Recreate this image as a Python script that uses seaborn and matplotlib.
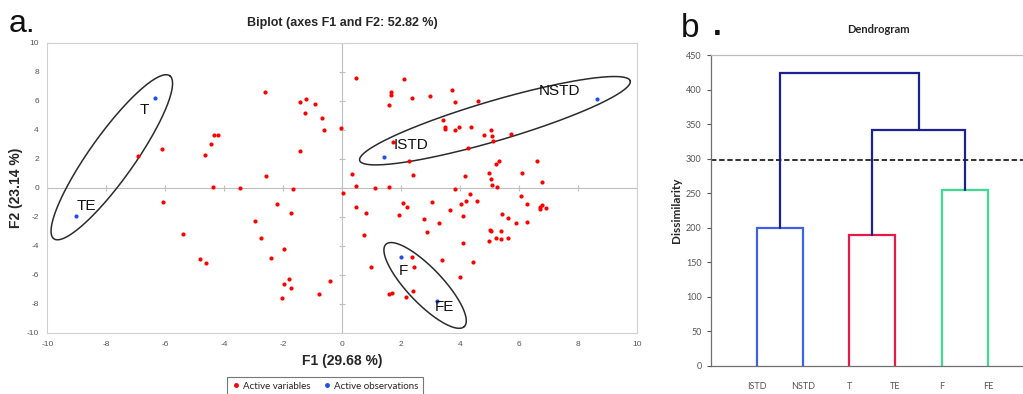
import numpy as np
import pandas as pd
import matplotlib
matplotlib.use("Agg")
import matplotlib.pyplot as plt
from matplotlib.lines import Line2D
import seaborn as sns

# ---- PCA biplot data -------------------------------------------------------
var_f1 = [-6.93, -6.12, -2.60, -4.64, -4.43, -4.34, -4.21, -4.39, -3.46, -2.58,
          -1.67, -1.43, -1.21, -0.90, -1.25, -0.69, -0.60, -1.43, -0.02, 0.05,
          -6.08, -5.38, -4.82, -4.60, -2.19, -1.73, -2.94, -2.74, -1.97, -2.41,
          -1.81, -1.97, -1.73, -2.02, -0.77, -0.41,
          0.46, 2.10, 1.65, 1.65, 1.59, 2.37, 3.00, 3.73, 3.82, 4.62,
          3.44, 3.48, 3.50, 3.82, 3.97, 4.37, 5.06, 4.83, 5.10, 5.12,
          5.72, 1.72, 4.26, 2.29, 0.33, 2.41, 4.19, 5.34, 5.23, 5.00,
          5.04, 6.11, 6.62, 6.78, 0.46, 1.11, 1.61, 5.08, 5.27, 3.84,
          4.34, 6.07,
          0.49, 0.83, 2.07, 2.20, 3.07, 4.05, 4.20, 4.59, 1.95, 3.68,
          4.12, 2.78, 3.30, 2.87, 0.76, 4.09, 5.42, 5.62, 5.92, 6.29,
          6.29, 6.73, 6.78, 6.73, 6.93, 5.03, 5.05, 5.41, 5.21, 5.39,
          5.64, 4.98, 3.40, 4.46, 2.39, 2.46, 0.97, 4.02, 2.42, 1.61,
          1.69, 2.17]
var_f2 = [2.16, 2.65, 6.57, 2.28, 3.04, 3.66, 3.66, 0.07, 0.00, 0.83,
          -0.12, 5.88, 6.15, 5.76, 5.14, 4.81, 4.01, 2.51, 4.10, -0.35,
          -1.02, -3.18, -4.89, -5.17, -1.15, -1.75, -2.31, -3.44, -4.20, -4.82,
          -6.27, -6.62, -6.90, -7.59, -7.33, -6.46,
          7.56, 7.51, 6.57, 6.38, 5.69, 6.18, 6.31, 6.73, 5.90, 5.99,
          4.65, 4.19, 4.08, 4.01, 4.22, 4.17, 4.01, 3.64, 3.60, 3.25,
          3.69, 3.15, 2.74, 1.84, 0.94, 0.90, 0.83, 1.84, 1.61, 0.99,
          0.62, 1.01, 1.82, 0.37, 0.11, 0.00, 0.04, 0.16, 0.04, -0.07,
          -0.46, -0.55,
          -1.36, -1.73, -1.04, -1.36, -0.97, -1.15, -0.95, -0.90, -1.87, -1.57,
          -1.98, -2.17, -2.42, -3.04, -3.28, -3.80, -1.82, -2.12, -2.42, -2.35,
          -1.09, -1.34, -1.20, -1.48, -1.41, -2.90, -3.02, -3.00, -3.50, -3.53,
          -3.48, -3.71, -5.00, -5.14, -4.80, -5.49, -5.49, -6.13, -7.10, -7.36,
          -7.29, -7.52]

obs_names = ["T", "TE", "ISTD", "NSTD", "F", "FE"]
obs_f1 = [-6.33, -9.04, 1.44, 8.66, 1.99, 3.22]
obs_f2 = [6.18, -1.92, 2.10, 6.15, -4.80, -7.79]

# label anchors for the observation names
label_f1 = [-6.71, -8.66, 2.35, 7.38, 2.07, 3.48]
label_f2 = [5.34, -1.27, 2.92, 6.65, -5.72, -8.26]

# grouping ellipses: centre (F1, F2), semi-axes in pixels, tilt in degrees
ellipse_cx = [-7.81, 5.19, 2.82]
ellipse_cy = [2.10, 4.62, -6.74]
ellipse_a = [100.0, 141.0, 56.8]
ellipse_b = [22.5, 20.0, 17.6]
ellipse_ang = [54.6, 16.4, -46.4]

# ---- Dendrogram data --------------------------------------------------------
leaves = ["ISTD", "NSTD", "T", "TE", "F", "FE"]
h_istd_nstd = 200
h_t_te = 189
h_f_fe = 254
h_tte_ffe = 342
h_root = 424
cut_level = 298

RED = "#FF0000"
BLUE_DOT = "#1F4FE8"
C_NAVY = "#1C2190"
C_BLUE = "#3C62E8"
C_RED = "#E8194A"
C_GREEN = "#40DA95"
TICK_C = "#555555"

sns.set_theme(style="white")
plt.rcParams["font.family"] = ["Liberation Sans", "DejaVu Sans"]
plt.rcParams["axes.unicode_minus"] = False

fig = plt.figure(figsize=(10.23, 3.94), dpi=100)

# ============================ biplot ========================================
ax = fig.add_axes([0.0462, 0.1556, 0.5762, 0.736])
ax.set_xlim(-10, 10)
ax.set_ylim(-10, 10)

vars_df = pd.DataFrame({"F1": var_f1, "F2": var_f2})
obs_df = pd.DataFrame({"F1": obs_f1, "F2": obs_f2, "name": obs_names})

ax.axhline(0, color="#BFBFBF", lw=0.8, zorder=0)
ax.axvline(0, color="#BFBFBF", lw=0.8, zorder=0)
# small tick marks along the zero lines
ticks = np.arange(-10, 11, 2)
ax.plot(np.zeros_like(ticks), ticks, ls="none", marker="_", ms=5,
        color="#BFBFBF", mew=0.8, zorder=0)
ax.plot(ticks, np.zeros_like(ticks), ls="none", marker="|", ms=5,
        color="#BFBFBF", mew=0.8, zorder=0)

sns.scatterplot(data=vars_df, x="F1", y="F2", color=RED, s=9,
                linewidth=0, ax=ax, zorder=3)
sns.scatterplot(data=obs_df, x="F1", y="F2", color=BLUE_DOT, s=9,
                linewidth=0, ax=ax, zorder=3)

for nm, lx, ly in zip(obs_names, label_f1, label_f2):
    ax.text(lx, ly, nm, fontsize=11, ha="center", va="center",
            color="#111111", zorder=4)

fig.canvas.draw()
t = np.linspace(0, 2 * np.pi, 300)
for cx, cy, a, b, ang in zip(ellipse_cx, ellipse_cy, ellipse_a, ellipse_b, ellipse_ang):
    c = ax.transData.transform((cx, cy))
    th = np.deg2rad(ang)
    px = c[0] + a * np.cos(t) * np.cos(th) - b * np.sin(t) * np.sin(th)
    py = c[1] + a * np.cos(t) * np.sin(th) + b * np.sin(t) * np.cos(th)
    pts = ax.transData.inverted().transform(np.column_stack([px, py]))
    ax.plot(pts[:, 0], pts[:, 1], color="#2B2B2B", lw=1.1, zorder=2)

ax.set_xticks(ticks)
ax.set_yticks(ticks)
ax.tick_params(axis="both", labelsize=6, colors=TICK_C, length=0, pad=6)
for sp in ax.spines.values():
    sp.set_color("#D0D0D0")
    sp.set_linewidth(0.8)
ax.set_xlabel("F1 (29.68 %)", fontsize=10, fontweight="bold", labelpad=4)
ax.set_ylabel("F2 (23.14 %)", fontsize=10, fontweight="bold", labelpad=3)
ax.set_title("Biplot (axes F1 and F2: 52.82 %)", fontsize=9,
             fontweight="bold", pad=12)

handles = [
    Line2D([], [], ls="none", marker="o", ms=2.5, color=RED, label="Active variables"),
    Line2D([], [], ls="none", marker="o", ms=2.5, color=BLUE_DOT, label="Active observations"),
]
leg = fig.legend(handles=handles, loc="upper center", ncol=2,
                 bbox_to_anchor=(325 / 1023, 1 - 372 / 394), fontsize=7,
                 frameon=True, fancybox=False, handletextpad=0.2,
                 columnspacing=1.2, borderpad=0.5, handlelength=1.0,
                 prop={"family": ["Lato", "DejaVu Sans"], "size": 7})
leg.get_frame().set_edgecolor("#555555")
leg.get_frame().set_linewidth(0.8)

fig.text(0.008, 0.92, "a.", fontsize=23, color="#111111")

# ============================ dendrogram ====================================
dx = fig.add_axes([0.6947, 0.0718, 0.3161, 0.7886])
dx.set_xlim(0, 7)
dx.set_ylim(0, 450)

pos = {name: i + 1 for i, name in enumerate(leaves)}


def link(ax_, x1, x2, h1, h2, top, color):
    ax_.plot([x1, x1, x2, x2], [h1, top, top, h2], color=color, lw=1.6,
             solid_joinstyle="miter")


link(dx, pos["ISTD"], pos["NSTD"], 0, 0, h_istd_nstd, C_BLUE)
link(dx, pos["T"], pos["TE"], 0, 0, h_t_te, C_RED)
link(dx, pos["F"], pos["FE"], 0, 0, h_f_fe, C_GREEN)
m_std = (pos["ISTD"] + pos["NSTD"]) / 2
m_t = (pos["T"] + pos["TE"]) / 2
m_f = (pos["F"] + pos["FE"]) / 2
link(dx, m_t, m_f, h_t_te, h_f_fe, h_tte_ffe, C_NAVY)
link(dx, m_std, (m_t + m_f) / 2, h_istd_nstd, h_tte_ffe, h_root, C_NAVY)
dx.axhline(cut_level, color="#222222", lw=1.3, ls=(0, (3, 1.5)))

dx.set_xticks([pos[n] for n in leaves])
dx.set_xticklabels(leaves, family=["Lato", "DejaVu Sans"])
dx.set_yticks(np.arange(0, 451, 50))
dx.tick_params(axis="x", labelsize=6.5, colors=TICK_C, length=0, pad=12)
dx.tick_params(axis="y", labelsize=6.5, colors=TICK_C, length=3, width=0.8,
               direction="out", left=True)
for lab in dx.get_yticklabels():
    lab.set_family(["Lato", "DejaVu Sans"])
dx.spines["left"].set_color("#707070")
dx.spines["bottom"].set_color("#707070")
dx.spines["top"].set_color("#BBBBBB")
dx.spines["right"].set_visible(False)
for sp in dx.spines.values():
    sp.set_linewidth(0.9)
dx.set_ylabel("Dissimilarity", fontsize=8.5, fontweight="bold",
              family=["Lato", "DejaVu Sans"], labelpad=3)
dx.set_title("Dendrogram", fontsize=8, fontweight="bold",
             family=["Lato", "DejaVu Sans"], pad=16, x=0.52)

fig.text(0.666, 0.905, "b", fontsize=24, color="#111111")
fig.text(0.697, 0.91, ".", fontsize=23, color="#111111", fontweight="bold")

fig.savefig("out.png", dpi=100)
